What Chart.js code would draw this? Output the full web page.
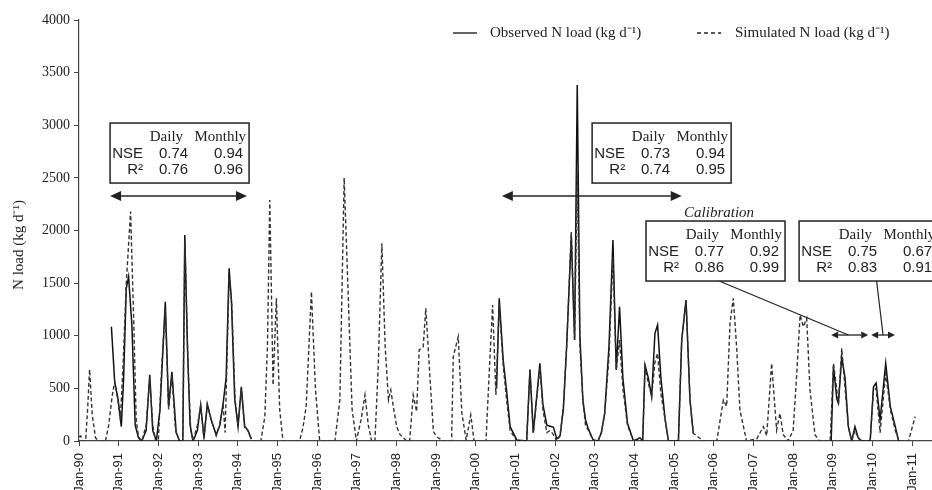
<!doctype html>
<html lang="en">
  <head>
    <meta charset="utf-8">
    <title>N load</title>
    <style>
      * { margin: 0; padding: 0; }
      body { background: #fff; }
      .chartBox { width: 932px; height: 490px; position: relative; }
    </style>
  </head>
  <body>
    <div class="chartBox">
      <canvas id="myChart"></canvas>
    </div>
    <script src="https://cdn.jsdelivr.net/npm/chart.js/dist/chart.umd.min.js"></script>
    <script>
    // months counted from Jan 1990
    const tickLabels = ['Jan-90','Jan-91','Jan-92','Jan-93','Jan-94','Jan-95','Jan-96','Jan-97','Jan-98','Jan-99','Jan-00',
                        'Jan-01','Jan-02','Jan-03','Jan-04','Jan-05','Jan-06','Jan-07','Jan-08','Jan-09','Jan-10','Jan-11'];
    const tickMonths = tickLabels.map((_, i) => i * 12);

    // simulated N load (kg/d)
    const simMonth = [0,0.5,1,2,2.6,3.2,4,5,6,8,9,10,10.8,11.8,12.5,13.3,14.3,15.6,16.5,17.3,18,19,20.3,21.4,22.3,23.2,24,25,26.1,27.1,
      28.1,29.2,30.4,31.4,32,33,33.8,34.5,35.8,36.8,37.8,38.8,40,41.5,42.5,43.6,44.2,45.4,46.2,47.2,48.1,49.1,50.1,51.1,52.1,53,55,56.2,57,57.7,
      58.7,59.7,60.7,61.7,66.7,67.7,68.7,70.3,71.5,72.8,77.4,78.9,80.2,81.3,82.6,83.9,85.3,86.5,87.5,88.5,89.5,90.5,91.6,92.6,93.6,94.3,95.2,96.1,97.1,99.1,
      100,101.1,102.1,102.9,104.1,104.9,106.2,107.2,108.2,110.2,112.7,113.2,114.7,115.8,117.1,118.5,119.5,123.1,124,125.1,126.1,127.1,128.3,129.3,130.4,132.4,
      135.4,136.4,137.4,139.4,140.3,141.5,142.5,143.5,144.5,145.5,146.5,147.5,148.9,149.9,150.7,151.5,152.4,153.2,154,155.5,157,158,159,160.3,161.5,162.5,163.5,164.5,165.9,167.7,
      169.7,170.5,171.2,172.2,173.2,174.2,175,176,177.3,178.3,181.3,182.3,183.6,184.8,185.8,186.8,188.8,192.9,194.9,195.9,196.9,197.9,198.9,199.9,201.9,
      205,207,208,209.5,211,212,213,214.5,216,217.1,218.1,219.1,220.1,221.1,222.6,224,227.2,228.2,229.7,230.7,231.7,232.7,233.7,234.7,235.7,236.7,
      239.3,240.3,241.1,242.3,244,245.4,246.9,248,250.9,252.9];
    const simLoad = [40,50,0,0,300,680,250,30,0,0,150,420,563,380,200,700,1500,2180,1200,200,40,0,150,600,150,0,0,700,1250,300,
      620,100,0,0,1900,700,100,0,150,330,30,340,200,50,150,340,80,1550,1300,400,150,500,130,100,20,0,0,230,900,2290,
      532,1356,300,0,0,120,326,1419,500,0,0,390,2500,1500,300,0,200,437,150,0,0,700,1878,900,390,485,300,136,60,0,
      0,437,279,865,896,1260,580,89,40,0,0,801,991,263,10,247,0,0,600,1292,437,1300,720,400,100,0,
      0,675,73,700,300,80,100,60,0,50,326,900,1989,960,2560,900,390,150,105,10,0,80,263,800,1750,675,960,500,150,0,
      30,0,700,550,421,750,833,450,200,0,0,960,1340,390,73,50,0,0,390,330,1118,1356,896,295,0,
      20,136,50,738,105,263,60,0,100,643,1197,1086,1165,485,60,0,0,740,358,881,500,136,0,100,30,0,
      0,480,500,80,643,300,100,0,0,231];

    // observed N load (kg/d), null breaks the record gaps
    const obsMonth = [9.8,10.8,11.8,12.8,13.5,14.3,15,16,17,18,19,20.3,21.4,22.3,23.4,24.5,26.1,27.1,28.1,29.4,30.4,31.4,32,32.8,33.6,34.5,
      35.8,36.8,37.8,38.8,40,41.5,42.6,43.6,44.5,45.4,46.1,47.1,48.1,49.1,50.1,51.1,52.1,
      90,
      126.3,127.1,128.3,129.3,130.4,132.4,135.4,136.4,137.4,139.4,140.3,141.5,142.5,143.5,144.5,145.5,146.5,147.5,148.9,149.9,150.7,151.5,152.4,153.2,
      154,155.5,157,158,159,160.3,161.5,162.5,163.5,164.5,165.9,167.7,169.7,170.5,171.2,172.2,173.2,174.2,175,176,177.3,178.3,181.3,182.3,183.6,184.8,185.8,
      210,
      227.5,228.2,229.2,229.7,230.7,231.7,232.7,233.7,234.7,235.7,236.7,239.3,240.3,241.1,242.3,244,245.4,246.9,247.9];
    const obsLoad = [1086,560,400,136,600,1450,1561,1100,150,30,0,100,630,100,0,300,1323,326,658,80,0,0,1957,900,150,0,
      100,342,30,350,200,60,150,358,600,1641,1340,400,136,516,140,100,20,
      null,
      500,1356,770,485,136,10,0,680,80,738,350,150,140,130,20,50,300,900,1950,960,3383,1000,390,200,
      120,10,0,80,263,900,1910,675,1276,600,168,0,30,0,722,600,421,1023,1102,600,200,0,0,960,1340,390,73,
      null,
      0,706,400,358,800,600,136,0,136,30,0,0,516,550,200,738,326,136,0];

    // fit statistics per period: NSE and R² (daily, monthly)
    const nseDaily = ['0.74', '0.73', '0.77', '0.75'];
    const nseMonthly = ['0.94', '0.94', '0.92', '0.67'];
    const r2Daily = ['0.76', '0.74', '0.86', '0.83'];
    const r2Monthly = ['0.96', '0.95', '0.99', '0.91'];

    const toPoints = (xs, ys) => xs.map((x, i) => ({ x: x, y: ys[i] }));

    const serif = '"Liberation Serif", "Times New Roman", serif';
    const sans = '"Liberation Sans", Arial, sans-serif';
    const ink = '#222';

    function arrow(ctx, x0, x1, y, len, half) {
      ctx.beginPath();
      ctx.moveTo(x0 + len, y);
      ctx.lineTo(x1 - len, y);
      ctx.stroke();
      ctx.beginPath();
      ctx.moveTo(x0, y); ctx.lineTo(x0 + len, y - half); ctx.lineTo(x0 + len, y + half); ctx.closePath();
      ctx.moveTo(x1, y); ctx.lineTo(x1 - len, y - half); ctx.lineTo(x1 - len, y + half); ctx.closePath();
      ctx.fill();
    }

    function statBox(ctx, left, top, i) {
      const w = 139, h = 60;
      ctx.fillStyle = '#fff';
      ctx.fillRect(left, top, w, h);
      ctx.lineWidth = 1.5;
      ctx.strokeRect(left, top, w, h);
      ctx.fillStyle = ink;
      ctx.textBaseline = 'middle';
      ctx.textAlign = 'right';
      ctx.font = '15px ' + serif;
      ctx.fillText('Daily', left + 73, top + 14);
      ctx.fillText('Monthly', left + 136, top + 14);
      ctx.font = '15px ' + sans;
      ctx.fillText('NSE', left + 33, top + 31);
      ctx.fillText('R²', left + 33, top + 47);
      ctx.fillText(nseDaily[i], left + 78, top + 31);
      ctx.fillText(r2Daily[i], left + 78, top + 47);
      ctx.fillText(nseMonthly[i], left + 133, top + 31);
      ctx.fillText(r2Monthly[i], left + 133, top + 47);
    }

    const overlay = {
      id: 'overlay',
      afterDraw(chart) {
        const ctx = chart.ctx;
        const xs = chart.scales.x, ys = chart.scales.y;
        const px = m => xs.getPixelForValue(m);
        const py = v => ys.getPixelForValue(v);
        ctx.save();
        ctx.strokeStyle = ink;
        ctx.fillStyle = ink;

        // legend
        ctx.lineWidth = 1.4;
        ctx.beginPath(); ctx.moveTo(453, 33); ctx.lineTo(477, 33); ctx.stroke();
        ctx.setLineDash([4, 3]);
        ctx.beginPath(); ctx.moveTo(697, 33); ctx.lineTo(721, 33); ctx.stroke();
        ctx.setLineDash([]);
        ctx.font = '15px ' + serif;
        ctx.textBaseline = 'middle';
        ctx.textAlign = 'left';
        ctx.fillText('Observed N load (kg d⁻¹)', 490, 33);
        ctx.fillText('Simulated N load (kg d⁻¹)', 735, 33);

        // y axis title
        ctx.save();
        ctx.translate(19, 245);
        ctx.rotate(-Math.PI / 2);
        ctx.textAlign = 'center';
        ctx.fillText('N load (kg d⁻¹)', 0, 0);
        ctx.restore();

        // period arrows
        ctx.lineWidth = 1.5;
        arrow(ctx, px(9.4), px(50.8), py(2328), 11, 5);
        arrow(ctx, px(127.9), px(182.3), py(2328), 11, 5);
        ctx.lineWidth = 1.3;
        arrow(ctx, px(227.5), px(238.7), py(1007), 7, 3.5);
        arrow(ctx, px(239.6), px(246.8), py(1007), 7, 3.5);

        // leader lines
        ctx.lineWidth = 1.2;
        ctx.beginPath();
        ctx.moveTo(px(192.9), py(1530)); ctx.lineTo(px(232.7), py(1007));
        ctx.moveTo(px(241.2), py(1530)); ctx.lineTo(px(243.2), py(1007));
        ctx.stroke();

        // statistics boxes
        statBox(ctx, px(9.4), py(3021), 0);
        statBox(ctx, px(155.2), py(3021), 1);
        statBox(ctx, px(171.5), py(2090), 2);
        statBox(ctx, px(217.8), py(2090), 3);

        ctx.font = 'italic 15px ' + serif;
        ctx.textAlign = 'center';
        ctx.textBaseline = 'middle';
        ctx.fillText('Calibration', px(193.6), py(2166));
        ctx.restore();
      }
    };

    const data = {
      datasets: [
        {
          label: 'Simulated N load',
          data: toPoints(simMonth, simLoad),
          borderColor: '#333',
          borderWidth: 1.4,
          borderDash: [4, 2.5],
          pointRadius: 0,
          tension: 0
        },
        {
          label: 'Observed N load',
          data: toPoints(obsMonth, obsLoad),
          borderColor: '#111',
          borderWidth: 1.5,
          pointRadius: 0,
          tension: 0,
          spanGaps: false
        }
      ]
    };

    const config = {
      type: 'line',
      data,
      options: {
        responsive: true,
        maintainAspectRatio: false,
        animation: false,
        layout: { padding: { top: 20, right: 0, bottom: 0, left: 0 } },
        plugins: { legend: { display: false }, tooltip: { enabled: false } },
        scales: {
          x: {
            type: 'linear',
            min: 0,
            max: 258,
            afterFit(scale) {
              scale.height = 49;
              scale.paddingLeft = 0;
              scale.paddingRight = 0;
            },
            afterBuildTicks(scale) { scale.ticks = tickMonths.map(v => ({ value: v })); },
            grid: { drawOnChartArea: false, drawTicks: true, tickLength: 5, color: '#444' },
            border: { color: '#444', width: 1.2 },
            ticks: {
              minRotation: 90,
              maxRotation: 90,
              autoSkip: false,
              padding: 7,
              color: ink,
              font: { family: sans, size: 13 },
              callback: v => tickLabels[tickMonths.indexOf(v)]
            }
          },
          y: {
            min: 0,
            max: 4000,
            afterFit(scale) { scale.width = 79; },
            grid: { drawOnChartArea: false, drawTicks: true, tickLength: 5, color: '#444' },
            border: { color: '#444', width: 1.2 },
            ticks: {
              stepSize: 500,
              padding: 4,
              color: ink,
              font: { family: serif, size: 14 },
              callback: v => String(v)
            }
          }
        }
      },
      plugins: [overlay]
    };

    const myChart = new Chart(document.getElementById('myChart'), config);
    </script>
  </body>
</html>
